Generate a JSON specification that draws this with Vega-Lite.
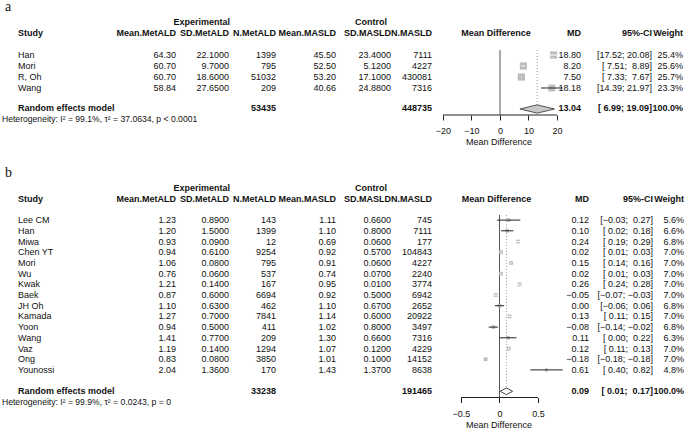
{
"$schema":"https://vega.github.io/schema/vega-lite/v6.json",
"padding":{"left":0,"top":0,"right":0,"bottom":2},
"background":"white",
"columns":11,
"spacing":{"row":45,"column":0},
"bounds":"flush",
"config":{"view":{"stroke":null},"text":{"font":"Liberation Sans","fontSize":9,"align":"right","color":"#111"},
"axis":{"grid":false,"domain":false,"tickSize":5,"labelPadding":6.5,"titlePadding":2,"tickColor":"#222","labelColor":"#111","titleColor":"#111","labelFont":"Liberation Sans","titleFont":"Liberation Sans","labelFontSize":9,"titleFontSize":9,"titleFontWeight":"normal","labelFlush":false,"labelOverlap":false,"tickWidth":1,"format":"~f"}},
"datasets":{
"a":[
{"row":"Han","study":"Han","me":64.30,"se":22.1,"ne":1399,"mc":45.50,"sc":23.4,"nc":7111,"md":18.80,"lo":17.52,"hi":20.08,"ci":"[17.52;\u00a020.08]","w":0.254},
{"row":"Mori","study":"Mori","me":60.70,"se":9.7,"ne":795,"mc":52.50,"sc":5.12,"nc":4227,"md":8.20,"lo":7.51,"hi":8.89,"ci":"[\u00a07.51;\u00a0\u00a08.89]","w":0.256},
{"row":"R, Oh","study":"R, Oh","me":60.70,"se":18.6,"ne":51032,"mc":53.20,"sc":17.1,"nc":430081,"md":7.50,"lo":7.33,"hi":7.67,"ci":"[\u00a07.33;\u00a0\u00a07.67]","w":0.257},
{"row":"Wang","study":"Wang","me":58.84,"se":27.65,"ne":209,"mc":40.66,"sc":24.88,"nc":7316,"md":18.18,"lo":14.39,"hi":21.97,"ci":"[14.39;\u00a021.97]","w":0.233},
{"row":"RE","study":"Random effects model","ne":53435,"nc":448735,"md":13.04,"lo":6.99,"hi":19.09,"ci":"[\u00a06.99;\u00a019.09]","w":1}
],
"b":[
{"row":"Lee CM","study":"Lee CM","me":1.23,"se":0.89,"ne":143,"mc":1.11,"sc":0.66,"nc":745,"md":0.12,"lo":-0.03,"hi":0.27,"ci":"[\u22120.03;\u00a0\u00a00.27]","w":0.056},
{"row":"Han","study":"Han","me":1.20,"se":1.5,"ne":1399,"mc":1.10,"sc":0.8,"nc":7111,"md":0.10,"lo":0.02,"hi":0.18,"ci":"[\u00a00.02;\u00a0\u00a00.18]","w":0.066},
{"row":"Miwa","study":"Miwa","me":0.93,"se":0.09,"ne":12,"mc":0.69,"sc":0.06,"nc":177,"md":0.24,"lo":0.19,"hi":0.29,"ci":"[\u00a00.19;\u00a0\u00a00.29]","w":0.068},
{"row":"Chen YT","study":"Chen YT","me":0.94,"se":0.61,"ne":9254,"mc":0.92,"sc":0.57,"nc":104843,"md":0.02,"lo":0.01,"hi":0.03,"ci":"[\u00a00.01;\u00a0\u00a00.03]","w":0.070},
{"row":"Mori","study":"Mori","me":1.06,"se":0.08,"ne":795,"mc":0.91,"sc":0.06,"nc":4227,"md":0.15,"lo":0.14,"hi":0.16,"ci":"[\u00a00.14;\u00a0\u00a00.16]","w":0.070},
{"row":"Wu","study":"Wu","me":0.76,"se":0.06,"ne":537,"mc":0.74,"sc":0.07,"nc":2240,"md":0.02,"lo":0.01,"hi":0.03,"ci":"[\u00a00.01;\u00a0\u00a00.03]","w":0.070},
{"row":"Kwak","study":"Kwak","me":1.21,"se":0.14,"ne":167,"mc":0.95,"sc":0.01,"nc":3774,"md":0.26,"lo":0.24,"hi":0.28,"ci":"[\u00a00.24;\u00a0\u00a00.28]","w":0.070},
{"row":"Baek","study":"Baek","me":0.87,"se":0.6,"ne":6694,"mc":0.92,"sc":0.5,"nc":6942,"md":-0.05,"lo":-0.07,"hi":-0.03,"ci":"[\u22120.07;\u00a0\u22120.03]","w":0.070},
{"row":"JH Oh","study":"JH Oh","me":1.10,"se":0.63,"ne":462,"mc":1.10,"sc":0.67,"nc":2652,"md":0.00,"lo":-0.06,"hi":0.06,"ci":"[\u22120.06;\u00a0\u00a00.06]","w":0.068},
{"row":"Kamada","study":"Kamada","me":1.27,"se":0.7,"ne":7841,"mc":1.14,"sc":0.6,"nc":20922,"md":0.13,"lo":0.11,"hi":0.15,"ci":"[\u00a00.11;\u00a0\u00a00.15]","w":0.070},
{"row":"Yoon","study":"Yoon","me":0.94,"se":0.5,"ne":411,"mc":1.02,"sc":0.8,"nc":3497,"md":-0.08,"lo":-0.14,"hi":-0.02,"ci":"[\u22120.14;\u00a0\u22120.02]","w":0.068},
{"row":"Wang","study":"Wang","me":1.41,"se":0.77,"ne":209,"mc":1.30,"sc":0.66,"nc":7316,"md":0.11,"lo":0.00,"hi":0.22,"ci":"[\u00a00.00;\u00a0\u00a00.22]","w":0.063},
{"row":"Vaz","study":"Vaz","me":1.19,"se":0.14,"ne":1294,"mc":1.07,"sc":0.12,"nc":4229,"md":0.12,"lo":0.11,"hi":0.13,"ci":"[\u00a00.11;\u00a0\u00a00.13]","w":0.070},
{"row":"Ong","study":"Ong","me":0.83,"se":0.08,"ne":3850,"mc":1.01,"sc":0.1,"nc":14152,"md":-0.18,"lo":-0.18,"hi":-0.18,"ci":"[\u22120.18;\u00a0\u22120.18]","w":0.070},
{"row":"Younossi","study":"Younossi","me":2.04,"se":1.36,"ne":170,"mc":1.43,"sc":1.37,"nc":8638,"md":0.61,"lo":0.40,"hi":0.82,"ci":"[\u00a00.40;\u00a0\u00a00.82]","w":0.048},
{"row":"RE","study":"Random effects model","ne":33238,"nc":191465,"md":0.09,"lo":0.01,"hi":0.17,"ci":"[\u00a00.01;\u00a0\u00a00.17]","w":1}
]
},
"concat":[
{"width":120,"height":115,"layer":[
{"data":{"values":[{}]},"mark":{"type":"text","text":"a","font":"Liberation Serif","fontSize":14,"align":"left","baseline":"alphabetic","dx":5,"dy":-10.5},"encoding":{"x":{"datum":"c","type":"nominal","scale":{"type":"point","padding":0,"align":0},"axis":null},"y":{"datum":"grp","type":"nominal","scale":{"type":"point","domain":["t0","t1","grp","hdr","gap1","Han","Mori","R, Oh","Wang","gap2","RE"],"padding":0.2273,"align":0},"axis":null}}},
{"data":{"values":[{}]},"mark":{"type":"text","text":"Study","fontWeight":"bold","align":"left","dx":18},"encoding":{"x":{"datum":"c","type":"nominal","scale":{"type":"point","padding":0,"align":0},"axis":null},"y":{"datum":"hdr","type":"nominal","scale":{"type":"point","domain":["t0","t1","grp","hdr","gap1","Han","Mori","R, Oh","Wang","gap2","RE"],"padding":0.2273,"align":0},"axis":null}}},
{"data":{"name":"a"},"transform":[{"filter":"datum.row !== 'RE'"}],"mark":{"type":"text","align":"left","dx":18},"encoding":{"x":{"datum":"c","type":"nominal","scale":{"type":"point","padding":0,"align":0},"axis":null},"y":{"field":"row","type":"nominal","scale":{"type":"point","domain":["t0","t1","grp","hdr","gap1","Han","Mori","R, Oh","Wang","gap2","RE"],"padding":0.2273,"align":0},"axis":null},"text":{"field":"study","type":"nominal"}}},
{"data":{"name":"a"},"transform":[{"filter":"datum.row === 'RE'"}],"mark":{"type":"text","align":"left","dx":18,"dy":-2,"fontWeight":"bold"},"encoding":{"x":{"datum":"c","type":"nominal","scale":{"type":"point","padding":0,"align":0},"axis":null},"y":{"field":"row","type":"nominal","scale":{"type":"point","domain":["t0","t1","grp","hdr","gap1","Han","Mori","R, Oh","Wang","gap2","RE"],"padding":0.2273,"align":0},"axis":null},"text":{"field":"study","type":"nominal"}}},
{"data":{"values":[{}]},"mark":{"type":"text","text":"Heterogeneity: I\u00b2 = 99.1%, \u03c4\u00b2 = 37.0634, p < 0.0001","align":"left","dx":2,"dy":9,"fontSize":8.6},"encoding":{"x":{"datum":"c","type":"nominal","scale":{"type":"point","padding":0,"align":0},"axis":null},"y":{"datum":"RE","type":"nominal","scale":{"type":"point","domain":["t0","t1","grp","hdr","gap1","Han","Mori","R, Oh","Wang","gap2","RE"],"padding":0.2273,"align":0},"axis":null}}}
]},
{"width":56,"height":115,"encoding":{"x":{"datum":"c","type":"nominal","scale":{"type":"point","padding":0,"align":1},"axis":null}},"layer":[
{"data":{"values":[{}]},"mark":{"type":"text","text":"Mean.MetALD","fontWeight":"bold"},"encoding":{"y":{"datum":"hdr","type":"nominal","scale":{"type":"point","domain":["t0","t1","grp","hdr","gap1","Han","Mori","R, Oh","Wang","gap2","RE"],"padding":0.2273,"align":0},"axis":null}}},
{"data":{"name":"a"},"transform":[{"filter":"datum.row !== 'RE'"}],"mark":"text","encoding":{"y":{"field":"row","type":"nominal","scale":{"type":"point","domain":["t0","t1","grp","hdr","gap1","Han","Mori","R, Oh","Wang","gap2","RE"],"padding":0.2273,"align":0},"axis":null},"text":{"field":"me","type":"quantitative","format":".2f"}}}
]},
{"width":53,"height":115,"encoding":{"x":{"datum":"c","type":"nominal","scale":{"type":"point","padding":0,"align":1},"axis":null}},"layer":[
{"data":{"values":[{}]},"mark":{"type":"text","text":"Experimental","fontWeight":"bold","dx":1},"encoding":{"y":{"datum":"grp","type":"nominal","scale":{"type":"point","domain":["t0","t1","grp","hdr","gap1","Han","Mori","R, Oh","Wang","gap2","RE"],"padding":0.2273,"align":0},"axis":null}}},
{"data":{"values":[{}]},"mark":{"type":"text","text":"SD.MetALD","fontWeight":"bold"},"encoding":{"y":{"datum":"hdr","type":"nominal","scale":{"type":"point","domain":["t0","t1","grp","hdr","gap1","Han","Mori","R, Oh","Wang","gap2","RE"],"padding":0.2273,"align":0},"axis":null}}},
{"data":{"name":"a"},"transform":[{"filter":"datum.row !== 'RE'"}],"mark":"text","encoding":{"y":{"field":"row","type":"nominal","scale":{"type":"point","domain":["t0","t1","grp","hdr","gap1","Han","Mori","R, Oh","Wang","gap2","RE"],"padding":0.2273,"align":0},"axis":null},"text":{"field":"se","type":"quantitative","format":".4f"}}}
]},
{"width":47,"height":115,"encoding":{"x":{"datum":"c","type":"nominal","scale":{"type":"point","padding":0,"align":1},"axis":null}},"layer":[
{"data":{"values":[{}]},"mark":{"type":"text","text":"N.MetALD","fontWeight":"bold"},"encoding":{"y":{"datum":"hdr","type":"nominal","scale":{"type":"point","domain":["t0","t1","grp","hdr","gap1","Han","Mori","R, Oh","Wang","gap2","RE"],"padding":0.2273,"align":0},"axis":null}}},
{"data":{"name":"a"},"transform":[{"filter":"datum.row !== 'RE'"}],"mark":"text","encoding":{"y":{"field":"row","type":"nominal","scale":{"type":"point","domain":["t0","t1","grp","hdr","gap1","Han","Mori","R, Oh","Wang","gap2","RE"],"padding":0.2273,"align":0},"axis":null},"text":{"field":"ne","type":"quantitative","format":"d"}}},
{"data":{"name":"a"},"transform":[{"filter":"datum.row === 'RE'"}],"mark":{"type":"text","fontWeight":"bold","dy":-2},"encoding":{"y":{"field":"row","type":"nominal","scale":{"type":"point","domain":["t0","t1","grp","hdr","gap1","Han","Mori","R, Oh","Wang","gap2","RE"],"padding":0.2273,"align":0},"axis":null},"text":{"field":"ne","type":"quantitative","format":"d"}}}
]},
{"width":60,"height":115,"encoding":{"x":{"datum":"c","type":"nominal","scale":{"type":"point","padding":0,"align":1},"axis":null}},"layer":[
{"data":{"values":[{}]},"mark":{"type":"text","text":"Mean.MASLD","fontWeight":"bold"},"encoding":{"y":{"datum":"hdr","type":"nominal","scale":{"type":"point","domain":["t0","t1","grp","hdr","gap1","Han","Mori","R, Oh","Wang","gap2","RE"],"padding":0.2273,"align":0},"axis":null}}},
{"data":{"name":"a"},"transform":[{"filter":"datum.row !== 'RE'"}],"mark":"text","encoding":{"y":{"field":"row","type":"nominal","scale":{"type":"point","domain":["t0","t1","grp","hdr","gap1","Han","Mori","R, Oh","Wang","gap2","RE"],"padding":0.2273,"align":0},"axis":null},"text":{"field":"mc","type":"quantitative","format":".2f"}}}
]},
{"width":55,"height":115,"encoding":{"x":{"datum":"c","type":"nominal","scale":{"type":"point","padding":0,"align":1},"axis":null}},"layer":[
{"data":{"values":[{}]},"mark":{"type":"text","text":"Control","fontWeight":"bold","dx":-4},"encoding":{"y":{"datum":"grp","type":"nominal","scale":{"type":"point","domain":["t0","t1","grp","hdr","gap1","Han","Mori","R, Oh","Wang","gap2","RE"],"padding":0.2273,"align":0},"axis":null}}},
{"data":{"values":[{}]},"mark":{"type":"text","text":"SD.MASLD","fontWeight":"bold"},"encoding":{"y":{"datum":"hdr","type":"nominal","scale":{"type":"point","domain":["t0","t1","grp","hdr","gap1","Han","Mori","R, Oh","Wang","gap2","RE"],"padding":0.2273,"align":0},"axis":null}}},
{"data":{"name":"a"},"transform":[{"filter":"datum.row !== 'RE'"}],"mark":"text","encoding":{"y":{"field":"row","type":"nominal","scale":{"type":"point","domain":["t0","t1","grp","hdr","gap1","Han","Mori","R, Oh","Wang","gap2","RE"],"padding":0.2273,"align":0},"axis":null},"text":{"field":"sc","type":"quantitative","format":".4f"}}}
]},
{"width":41,"height":115,"encoding":{"x":{"datum":"c","type":"nominal","scale":{"type":"point","padding":0,"align":1},"axis":null}},"layer":[
{"data":{"values":[{}]},"mark":{"type":"text","text":"N.MASLD","fontWeight":"bold"},"encoding":{"y":{"datum":"hdr","type":"nominal","scale":{"type":"point","domain":["t0","t1","grp","hdr","gap1","Han","Mori","R, Oh","Wang","gap2","RE"],"padding":0.2273,"align":0},"axis":null}}},
{"data":{"name":"a"},"transform":[{"filter":"datum.row !== 'RE'"}],"mark":"text","encoding":{"y":{"field":"row","type":"nominal","scale":{"type":"point","domain":["t0","t1","grp","hdr","gap1","Han","Mori","R, Oh","Wang","gap2","RE"],"padding":0.2273,"align":0},"axis":null},"text":{"field":"nc","type":"quantitative","format":"d"}}},
{"data":{"name":"a"},"transform":[{"filter":"datum.row === 'RE'"}],"mark":{"type":"text","fontWeight":"bold","dy":-2},"encoding":{"y":{"field":"row","type":"nominal","scale":{"type":"point","domain":["t0","t1","grp","hdr","gap1","Han","Mori","R, Oh","Wang","gap2","RE"],"padding":0.2273,"align":0},"axis":null},"text":{"field":"nc","type":"quantitative","format":"d"}}}
]},
{"width":133,"height":115,"layer":[
{"data":{"values":[{}]},"mark":{"type":"text","text":"Mean Difference","fontWeight":"bold","align":"center","dx":-4},"encoding":{"x":{"datum":0,"type":"quantitative","scale":{"domain":[-23.8596,22.807],"nice":false,"zero":false},"axis":{"values":[-20,-10,0,10,20],"title":"Mean Difference"}},"y":{"datum":"hdr","type":"nominal","scale":{"type":"point","domain":["t0","t1","grp","hdr","gap1","Han","Mori","R, Oh","Wang","gap2","RE"],"padding":0.2273,"align":0},"axis":null}}},
{"data":{"values":[{}]},"mark":{"type":"rule","color":"#222","strokeWidth":1,"yOffset":5},"encoding":{"x":{"datum":-20,"type":"quantitative","scale":{"domain":[-23.8596,22.807],"nice":false,"zero":false},"axis":{"values":[-20,-10,0,10,20],"title":"Mean Difference"}},"x2":{"datum":20},"y":{"datum":"RE","type":"nominal","scale":{"type":"point","domain":["t0","t1","grp","hdr","gap1","Han","Mori","R, Oh","Wang","gap2","RE"],"padding":0.2273,"align":0},"axis":null}}},
{"data":{"values":[{}]},"mark":{"type":"rule","color":"#555","strokeWidth":1,"yOffset":6,"y2Offset":5},"encoding":{"x":{"datum":0,"type":"quantitative","scale":{"domain":[-23.8596,22.807],"nice":false,"zero":false},"axis":{"values":[-20,-10,0,10,20],"title":"Mean Difference"}},"y":{"datum":"gap1","type":"nominal","scale":{"type":"point","domain":["t0","t1","grp","hdr","gap1","Han","Mori","R, Oh","Wang","gap2","RE"],"padding":0.2273,"align":0},"axis":null},"y2":{"datum":"RE"}}},
{"data":{"name":"a"},"transform":[{"filter":"datum.row === 'RE'"}],"mark":{"type":"rule","color":"#999","strokeWidth":1,"strokeDash":[1,2],"yOffset":6,"y2Offset":-1},"encoding":{"x":{"field":"md","type":"quantitative","scale":{"domain":[-23.8596,22.807],"nice":false,"zero":false},"axis":{"values":[-20,-10,0,10,20],"title":"Mean Difference"}},"y":{"datum":"gap1","type":"nominal","scale":{"type":"point","domain":["t0","t1","grp","hdr","gap1","Han","Mori","R, Oh","Wang","gap2","RE"],"padding":0.2273,"align":0},"axis":null},"y2":{"datum":"RE"}}},
{"data":{"name":"a"},"transform":[{"filter":"datum.row !== 'RE'"}],"mark":{"type":"point","shape":"square","filled":true,"color":"#bdbdbd","opacity":1,"strokeWidth":0},"encoding":{"x":{"field":"md","type":"quantitative","scale":{"domain":[-23.8596,22.807],"nice":false,"zero":false},"axis":{"values":[-20,-10,0,10,20],"title":"Mean Difference"}},"y":{"field":"row","type":"nominal","scale":{"type":"point","domain":["t0","t1","grp","hdr","gap1","Han","Mori","R, Oh","Wang","gap2","RE"],"padding":0.2273,"align":0},"axis":null},"size":{"field":"w","type":"quantitative","scale":{"domain":[0,0.257],"range":[0,52]},"legend":null}}},
{"data":{"name":"a"},"transform":[{"filter":"datum.row !== 'RE'"}],"mark":{"type":"rule","strokeWidth":1},"encoding":{"x":{"field":"lo","type":"quantitative","scale":{"domain":[-23.8596,22.807],"nice":false,"zero":false},"axis":{"values":[-20,-10,0,10,20],"title":"Mean Difference"}},"x2":{"field":"hi"},"y":{"field":"row","type":"nominal","scale":{"type":"point","domain":["t0","t1","grp","hdr","gap1","Han","Mori","R, Oh","Wang","gap2","RE"],"padding":0.2273,"align":0},"axis":null},"color":{"condition":{"test":"datum.hi - datum.lo > 3","value":"#222"},"value":"#ffffff"}}},
{"data":{"name":"a"},"transform":[{"filter":"datum.row === 'RE'"}],"mark":{"type":"point","shape":"M-1,0L0,-0.24L1,0L0,0.24Z","size":1190,"filled":true,"fill":"#c8c8c8","stroke":"#555","strokeWidth":1,"opacity":1,"yOffset":-1},"encoding":{"x":{"field":"md","type":"quantitative","scale":{"domain":[-23.8596,22.807],"nice":false,"zero":false},"axis":{"values":[-20,-10,0,10,20],"title":"Mean Difference"}},"y":{"field":"row","type":"nominal","scale":{"type":"point","domain":["t0","t1","grp","hdr","gap1","Han","Mori","R, Oh","Wang","gap2","RE"],"padding":0.2273,"align":0},"axis":null}}}
]},
{"width":24,"height":115,"encoding":{"x":{"datum":"c","type":"nominal","scale":{"type":"point","padding":0,"align":1},"axis":null}},"layer":[
{"data":{"values":[{}]},"mark":{"type":"text","text":"MD","fontWeight":"bold","dx":-8},"encoding":{"y":{"datum":"hdr","type":"nominal","scale":{"type":"point","domain":["t0","t1","grp","hdr","gap1","Han","Mori","R, Oh","Wang","gap2","RE"],"padding":0.2273,"align":0},"axis":null}}},
{"data":{"name":"a"},"transform":[{"filter":"datum.row !== 'RE'"}],"mark":{"type":"text","dx":-8},"encoding":{"y":{"field":"row","type":"nominal","scale":{"type":"point","domain":["t0","t1","grp","hdr","gap1","Han","Mori","R, Oh","Wang","gap2","RE"],"padding":0.2273,"align":0},"axis":null},"text":{"field":"md","type":"quantitative","format":".2f"}}},
{"data":{"name":"a"},"transform":[{"filter":"datum.row === 'RE'"}],"mark":{"type":"text","fontWeight":"bold","dx":-8,"dy":-2},"encoding":{"y":{"field":"row","type":"nominal","scale":{"type":"point","domain":["t0","t1","grp","hdr","gap1","Han","Mori","R, Oh","Wang","gap2","RE"],"padding":0.2273,"align":0},"axis":null},"text":{"field":"md","type":"quantitative","format":".2f"}}}
]},
{"width":68,"height":115,"encoding":{"x":{"datum":"c","type":"nominal","scale":{"type":"point","padding":0,"align":1},"axis":null}},"layer":[
{"data":{"values":[{}]},"mark":{"type":"text","text":"95%-CI","fontWeight":"bold","dx":-5},"encoding":{"y":{"datum":"hdr","type":"nominal","scale":{"type":"point","domain":["t0","t1","grp","hdr","gap1","Han","Mori","R, Oh","Wang","gap2","RE"],"padding":0.2273,"align":0},"axis":null}}},
{"data":{"name":"a"},"transform":[{"filter":"datum.row !== 'RE'"}],"mark":{"type":"text","dx":-5},"encoding":{"y":{"field":"row","type":"nominal","scale":{"type":"point","domain":["t0","t1","grp","hdr","gap1","Han","Mori","R, Oh","Wang","gap2","RE"],"padding":0.2273,"align":0},"axis":null},"text":{"field":"ci","type":"nominal"}}},
{"data":{"name":"a"},"transform":[{"filter":"datum.row === 'RE'"}],"mark":{"type":"text","fontWeight":"bold","dx":-5,"dy":-2},"encoding":{"y":{"field":"row","type":"nominal","scale":{"type":"point","domain":["t0","t1","grp","hdr","gap1","Han","Mori","R, Oh","Wang","gap2","RE"],"padding":0.2273,"align":0},"axis":null},"text":{"field":"ci","type":"nominal"}}}
]},
{"width":27,"height":115,"encoding":{"x":{"datum":"c","type":"nominal","scale":{"type":"point","padding":0,"align":1},"axis":null}},"layer":[
{"data":{"values":[{}]},"mark":{"type":"text","text":"Weight","fontWeight":"bold","dx":-1},"encoding":{"y":{"datum":"hdr","type":"nominal","scale":{"type":"point","domain":["t0","t1","grp","hdr","gap1","Han","Mori","R, Oh","Wang","gap2","RE"],"padding":0.2273,"align":0},"axis":null}}},
{"data":{"name":"a"},"transform":[{"filter":"datum.row !== 'RE'"}],"mark":{"type":"text","dx":-1},"encoding":{"y":{"field":"row","type":"nominal","scale":{"type":"point","domain":["t0","t1","grp","hdr","gap1","Han","Mori","R, Oh","Wang","gap2","RE"],"padding":0.2273,"align":0},"axis":null},"text":{"field":"w","type":"quantitative","format":".1%"}}},
{"data":{"name":"a"},"transform":[{"filter":"datum.row === 'RE'"}],"mark":{"type":"text","fontWeight":"bold","dx":-1,"dy":-2},"encoding":{"y":{"field":"row","type":"nominal","scale":{"type":"point","domain":["t0","t1","grp","hdr","gap1","Han","Mori","R, Oh","Wang","gap2","RE"],"padding":0.2273,"align":0},"axis":null},"text":{"field":"w","type":"quantitative","format":".1%"}}}
]},
{"width":120,"height":237.5,"layer":[
{"data":{"values":[{}]},"mark":{"type":"text","text":"b","font":"Liberation Serif","fontSize":14,"align":"left","baseline":"alphabetic","dx":5,"dy":-11.3},"encoding":{"x":{"datum":"c","type":"nominal","scale":{"type":"point","padding":0,"align":0},"axis":null},"y":{"datum":"grp","type":"nominal","scale":{"type":"point","domain":["t0","t1","grp","hdr","gap1","Lee CM","Han","Miwa","Chen YT","Mori","Wu","Kwak","Baek","JH Oh","Kamada","Yoon","Wang","Vaz","Ong","Younossi","gap2","RE"],"padding":0.598,"align":0.516},"axis":null}}},
{"data":{"values":[{}]},"mark":{"type":"text","text":"Study","fontWeight":"bold","align":"left","dx":18},"encoding":{"x":{"datum":"c","type":"nominal","scale":{"type":"point","padding":0,"align":0},"axis":null},"y":{"datum":"hdr","type":"nominal","scale":{"type":"point","domain":["t0","t1","grp","hdr","gap1","Lee CM","Han","Miwa","Chen YT","Mori","Wu","Kwak","Baek","JH Oh","Kamada","Yoon","Wang","Vaz","Ong","Younossi","gap2","RE"],"padding":0.598,"align":0.516},"axis":null}}},
{"data":{"name":"b"},"transform":[{"filter":"datum.row !== 'RE'"}],"mark":{"type":"text","align":"left","dx":18},"encoding":{"x":{"datum":"c","type":"nominal","scale":{"type":"point","padding":0,"align":0},"axis":null},"y":{"field":"row","type":"nominal","scale":{"type":"point","domain":["t0","t1","grp","hdr","gap1","Lee CM","Han","Miwa","Chen YT","Mori","Wu","Kwak","Baek","JH Oh","Kamada","Yoon","Wang","Vaz","Ong","Younossi","gap2","RE"],"padding":0.598,"align":0.516},"axis":null},"text":{"field":"study","type":"nominal"}}},
{"data":{"name":"b"},"transform":[{"filter":"datum.row === 'RE'"}],"mark":{"type":"text","align":"left","dx":18,"fontWeight":"bold"},"encoding":{"x":{"datum":"c","type":"nominal","scale":{"type":"point","padding":0,"align":0},"axis":null},"y":{"field":"row","type":"nominal","scale":{"type":"point","domain":["t0","t1","grp","hdr","gap1","Lee CM","Han","Miwa","Chen YT","Mori","Wu","Kwak","Baek","JH Oh","Kamada","Yoon","Wang","Vaz","Ong","Younossi","gap2","RE"],"padding":0.598,"align":0.516},"axis":null},"text":{"field":"study","type":"nominal"}}},
{"data":{"values":[{}]},"mark":{"type":"text","text":"Heterogeneity: I\u00b2 = 99.9%, \u03c4\u00b2 = 0.0243, p = 0","align":"left","dx":2,"dy":11,"fontSize":8.6},"encoding":{"x":{"datum":"c","type":"nominal","scale":{"type":"point","padding":0,"align":0},"axis":null},"y":{"datum":"RE","type":"nominal","scale":{"type":"point","domain":["t0","t1","grp","hdr","gap1","Lee CM","Han","Miwa","Chen YT","Mori","Wu","Kwak","Baek","JH Oh","Kamada","Yoon","Wang","Vaz","Ong","Younossi","gap2","RE"],"padding":0.598,"align":0.516},"axis":null}}}
]},
{"width":56,"height":237.5,"encoding":{"x":{"datum":"c","type":"nominal","scale":{"type":"point","padding":0,"align":1},"axis":null}},"layer":[
{"data":{"values":[{}]},"mark":{"type":"text","text":"Mean.MetALD","fontWeight":"bold"},"encoding":{"y":{"datum":"hdr","type":"nominal","scale":{"type":"point","domain":["t0","t1","grp","hdr","gap1","Lee CM","Han","Miwa","Chen YT","Mori","Wu","Kwak","Baek","JH Oh","Kamada","Yoon","Wang","Vaz","Ong","Younossi","gap2","RE"],"padding":0.598,"align":0.516},"axis":null}}},
{"data":{"name":"b"},"transform":[{"filter":"datum.row !== 'RE'"}],"mark":"text","encoding":{"y":{"field":"row","type":"nominal","scale":{"type":"point","domain":["t0","t1","grp","hdr","gap1","Lee CM","Han","Miwa","Chen YT","Mori","Wu","Kwak","Baek","JH Oh","Kamada","Yoon","Wang","Vaz","Ong","Younossi","gap2","RE"],"padding":0.598,"align":0.516},"axis":null},"text":{"field":"me","type":"quantitative","format":".2f"}}}
]},
{"width":53,"height":237.5,"encoding":{"x":{"datum":"c","type":"nominal","scale":{"type":"point","padding":0,"align":1},"axis":null}},"layer":[
{"data":{"values":[{}]},"mark":{"type":"text","text":"Experimental","fontWeight":"bold","dx":1},"encoding":{"y":{"datum":"grp","type":"nominal","scale":{"type":"point","domain":["t0","t1","grp","hdr","gap1","Lee CM","Han","Miwa","Chen YT","Mori","Wu","Kwak","Baek","JH Oh","Kamada","Yoon","Wang","Vaz","Ong","Younossi","gap2","RE"],"padding":0.598,"align":0.516},"axis":null}}},
{"data":{"values":[{}]},"mark":{"type":"text","text":"SD.MetALD","fontWeight":"bold"},"encoding":{"y":{"datum":"hdr","type":"nominal","scale":{"type":"point","domain":["t0","t1","grp","hdr","gap1","Lee CM","Han","Miwa","Chen YT","Mori","Wu","Kwak","Baek","JH Oh","Kamada","Yoon","Wang","Vaz","Ong","Younossi","gap2","RE"],"padding":0.598,"align":0.516},"axis":null}}},
{"data":{"name":"b"},"transform":[{"filter":"datum.row !== 'RE'"}],"mark":"text","encoding":{"y":{"field":"row","type":"nominal","scale":{"type":"point","domain":["t0","t1","grp","hdr","gap1","Lee CM","Han","Miwa","Chen YT","Mori","Wu","Kwak","Baek","JH Oh","Kamada","Yoon","Wang","Vaz","Ong","Younossi","gap2","RE"],"padding":0.598,"align":0.516},"axis":null},"text":{"field":"se","type":"quantitative","format":".4f"}}}
]},
{"width":47,"height":237.5,"encoding":{"x":{"datum":"c","type":"nominal","scale":{"type":"point","padding":0,"align":1},"axis":null}},"layer":[
{"data":{"values":[{}]},"mark":{"type":"text","text":"N.MetALD","fontWeight":"bold"},"encoding":{"y":{"datum":"hdr","type":"nominal","scale":{"type":"point","domain":["t0","t1","grp","hdr","gap1","Lee CM","Han","Miwa","Chen YT","Mori","Wu","Kwak","Baek","JH Oh","Kamada","Yoon","Wang","Vaz","Ong","Younossi","gap2","RE"],"padding":0.598,"align":0.516},"axis":null}}},
{"data":{"name":"b"},"transform":[{"filter":"datum.row !== 'RE'"}],"mark":"text","encoding":{"y":{"field":"row","type":"nominal","scale":{"type":"point","domain":["t0","t1","grp","hdr","gap1","Lee CM","Han","Miwa","Chen YT","Mori","Wu","Kwak","Baek","JH Oh","Kamada","Yoon","Wang","Vaz","Ong","Younossi","gap2","RE"],"padding":0.598,"align":0.516},"axis":null},"text":{"field":"ne","type":"quantitative","format":"d"}}},
{"data":{"name":"b"},"transform":[{"filter":"datum.row === 'RE'"}],"mark":{"type":"text","fontWeight":"bold"},"encoding":{"y":{"field":"row","type":"nominal","scale":{"type":"point","domain":["t0","t1","grp","hdr","gap1","Lee CM","Han","Miwa","Chen YT","Mori","Wu","Kwak","Baek","JH Oh","Kamada","Yoon","Wang","Vaz","Ong","Younossi","gap2","RE"],"padding":0.598,"align":0.516},"axis":null},"text":{"field":"ne","type":"quantitative","format":"d"}}}
]},
{"width":60,"height":237.5,"encoding":{"x":{"datum":"c","type":"nominal","scale":{"type":"point","padding":0,"align":1},"axis":null}},"layer":[
{"data":{"values":[{}]},"mark":{"type":"text","text":"Mean.MASLD","fontWeight":"bold"},"encoding":{"y":{"datum":"hdr","type":"nominal","scale":{"type":"point","domain":["t0","t1","grp","hdr","gap1","Lee CM","Han","Miwa","Chen YT","Mori","Wu","Kwak","Baek","JH Oh","Kamada","Yoon","Wang","Vaz","Ong","Younossi","gap2","RE"],"padding":0.598,"align":0.516},"axis":null}}},
{"data":{"name":"b"},"transform":[{"filter":"datum.row !== 'RE'"}],"mark":"text","encoding":{"y":{"field":"row","type":"nominal","scale":{"type":"point","domain":["t0","t1","grp","hdr","gap1","Lee CM","Han","Miwa","Chen YT","Mori","Wu","Kwak","Baek","JH Oh","Kamada","Yoon","Wang","Vaz","Ong","Younossi","gap2","RE"],"padding":0.598,"align":0.516},"axis":null},"text":{"field":"mc","type":"quantitative","format":".2f"}}}
]},
{"width":55,"height":237.5,"encoding":{"x":{"datum":"c","type":"nominal","scale":{"type":"point","padding":0,"align":1},"axis":null}},"layer":[
{"data":{"values":[{}]},"mark":{"type":"text","text":"Control","fontWeight":"bold","dx":-4},"encoding":{"y":{"datum":"grp","type":"nominal","scale":{"type":"point","domain":["t0","t1","grp","hdr","gap1","Lee CM","Han","Miwa","Chen YT","Mori","Wu","Kwak","Baek","JH Oh","Kamada","Yoon","Wang","Vaz","Ong","Younossi","gap2","RE"],"padding":0.598,"align":0.516},"axis":null}}},
{"data":{"values":[{}]},"mark":{"type":"text","text":"SD.MASLD","fontWeight":"bold"},"encoding":{"y":{"datum":"hdr","type":"nominal","scale":{"type":"point","domain":["t0","t1","grp","hdr","gap1","Lee CM","Han","Miwa","Chen YT","Mori","Wu","Kwak","Baek","JH Oh","Kamada","Yoon","Wang","Vaz","Ong","Younossi","gap2","RE"],"padding":0.598,"align":0.516},"axis":null}}},
{"data":{"name":"b"},"transform":[{"filter":"datum.row !== 'RE'"}],"mark":"text","encoding":{"y":{"field":"row","type":"nominal","scale":{"type":"point","domain":["t0","t1","grp","hdr","gap1","Lee CM","Han","Miwa","Chen YT","Mori","Wu","Kwak","Baek","JH Oh","Kamada","Yoon","Wang","Vaz","Ong","Younossi","gap2","RE"],"padding":0.598,"align":0.516},"axis":null},"text":{"field":"sc","type":"quantitative","format":".4f"}}}
]},
{"width":41,"height":237.5,"encoding":{"x":{"datum":"c","type":"nominal","scale":{"type":"point","padding":0,"align":1},"axis":null}},"layer":[
{"data":{"values":[{}]},"mark":{"type":"text","text":"N.MASLD","fontWeight":"bold"},"encoding":{"y":{"datum":"hdr","type":"nominal","scale":{"type":"point","domain":["t0","t1","grp","hdr","gap1","Lee CM","Han","Miwa","Chen YT","Mori","Wu","Kwak","Baek","JH Oh","Kamada","Yoon","Wang","Vaz","Ong","Younossi","gap2","RE"],"padding":0.598,"align":0.516},"axis":null}}},
{"data":{"name":"b"},"transform":[{"filter":"datum.row !== 'RE'"}],"mark":"text","encoding":{"y":{"field":"row","type":"nominal","scale":{"type":"point","domain":["t0","t1","grp","hdr","gap1","Lee CM","Han","Miwa","Chen YT","Mori","Wu","Kwak","Baek","JH Oh","Kamada","Yoon","Wang","Vaz","Ong","Younossi","gap2","RE"],"padding":0.598,"align":0.516},"axis":null},"text":{"field":"nc","type":"quantitative","format":"d"}}},
{"data":{"name":"b"},"transform":[{"filter":"datum.row === 'RE'"}],"mark":{"type":"text","fontWeight":"bold"},"encoding":{"y":{"field":"row","type":"nominal","scale":{"type":"point","domain":["t0","t1","grp","hdr","gap1","Lee CM","Han","Miwa","Chen YT","Mori","Wu","Kwak","Baek","JH Oh","Kamada","Yoon","Wang","Vaz","Ong","Younossi","gap2","RE"],"padding":0.598,"align":0.516},"axis":null},"text":{"field":"nc","type":"quantitative","format":"d"}}}
]},
{"width":133,"height":237.5,"layer":[
{"data":{"values":[{}]},"mark":{"type":"text","text":"Mean Difference","fontWeight":"bold","align":"center","dx":-3},"encoding":{"x":{"datum":0,"type":"quantitative","scale":{"domain":[-0.87662,0.85065],"nice":false,"zero":false},"axis":{"values":[-0.5,0,0.5],"title":"Mean Difference"}},"y":{"datum":"hdr","type":"nominal","scale":{"type":"point","domain":["t0","t1","grp","hdr","gap1","Lee CM","Han","Miwa","Chen YT","Mori","Wu","Kwak","Baek","JH Oh","Kamada","Yoon","Wang","Vaz","Ong","Younossi","gap2","RE"],"padding":0.598,"align":0.516},"axis":null}}},
{"data":{"values":[{}]},"mark":{"type":"rule","color":"#222","strokeWidth":1,"yOffset":6.2},"encoding":{"x":{"datum":-0.5,"type":"quantitative","scale":{"domain":[-0.87662,0.85065],"nice":false,"zero":false},"axis":{"values":[-0.5,0,0.5],"title":"Mean Difference"}},"x2":{"datum":0.5},"y":{"datum":"RE","type":"nominal","scale":{"type":"point","domain":["t0","t1","grp","hdr","gap1","Lee CM","Han","Miwa","Chen YT","Mori","Wu","Kwak","Baek","JH Oh","Kamada","Yoon","Wang","Vaz","Ong","Younossi","gap2","RE"],"padding":0.598,"align":0.516},"axis":null}}},
{"data":{"values":[{}]},"mark":{"type":"rule","color":"#555","strokeWidth":1,"yOffset":5.5,"y2Offset":6.2},"encoding":{"x":{"datum":0,"type":"quantitative","scale":{"domain":[-0.87662,0.85065],"nice":false,"zero":false},"axis":{"values":[-0.5,0,0.5],"title":"Mean Difference"}},"y":{"datum":"gap1","type":"nominal","scale":{"type":"point","domain":["t0","t1","grp","hdr","gap1","Lee CM","Han","Miwa","Chen YT","Mori","Wu","Kwak","Baek","JH Oh","Kamada","Yoon","Wang","Vaz","Ong","Younossi","gap2","RE"],"padding":0.598,"align":0.516},"axis":null},"y2":{"datum":"RE"}}},
{"data":{"name":"b"},"transform":[{"filter":"datum.row === 'RE'"}],"mark":{"type":"rule","color":"#999","strokeWidth":1,"strokeDash":[1,2],"yOffset":5.5},"encoding":{"x":{"field":"md","type":"quantitative","scale":{"domain":[-0.87662,0.85065],"nice":false,"zero":false},"axis":{"values":[-0.5,0,0.5],"title":"Mean Difference"}},"y":{"datum":"gap1","type":"nominal","scale":{"type":"point","domain":["t0","t1","grp","hdr","gap1","Lee CM","Han","Miwa","Chen YT","Mori","Wu","Kwak","Baek","JH Oh","Kamada","Yoon","Wang","Vaz","Ong","Younossi","gap2","RE"],"padding":0.598,"align":0.516},"axis":null},"y2":{"datum":"RE"}}},
{"data":{"name":"b"},"transform":[{"filter":"datum.row !== 'RE'"}],"mark":{"type":"point","shape":"square","filled":true,"color":"#bdbdbd","opacity":1,"strokeWidth":0},"encoding":{"x":{"field":"md","type":"quantitative","scale":{"domain":[-0.87662,0.85065],"nice":false,"zero":false},"axis":{"values":[-0.5,0,0.5],"title":"Mean Difference"}},"y":{"field":"row","type":"nominal","scale":{"type":"point","domain":["t0","t1","grp","hdr","gap1","Lee CM","Han","Miwa","Chen YT","Mori","Wu","Kwak","Baek","JH Oh","Kamada","Yoon","Wang","Vaz","Ong","Younossi","gap2","RE"],"padding":0.598,"align":0.516},"axis":null},"size":{"field":"w","type":"quantitative","scale":{"domain":[0,0.07],"range":[0,52]},"legend":null}}},
{"data":{"name":"b"},"transform":[{"filter":"datum.row !== 'RE'"}],"mark":{"type":"rule","strokeWidth":1},"encoding":{"x":{"field":"lo","type":"quantitative","scale":{"domain":[-0.87662,0.85065],"nice":false,"zero":false},"axis":{"values":[-0.5,0,0.5],"title":"Mean Difference"}},"x2":{"field":"hi"},"y":{"field":"row","type":"nominal","scale":{"type":"point","domain":["t0","t1","grp","hdr","gap1","Lee CM","Han","Miwa","Chen YT","Mori","Wu","Kwak","Baek","JH Oh","Kamada","Yoon","Wang","Vaz","Ong","Younossi","gap2","RE"],"padding":0.598,"align":0.516},"axis":null},"color":{"condition":{"test":"datum.hi - datum.lo > 0.11","value":"#222"},"value":"#ffffff"}}},
{"data":{"name":"b"},"transform":[{"filter":"datum.row === 'RE'"}],"mark":{"type":"point","shape":"M-1,0L0,-0.55L1,0L0,0.55Z","size":152,"filled":true,"fill":"#ffffff","stroke":"#444","strokeWidth":1,"opacity":1},"encoding":{"x":{"field":"md","type":"quantitative","scale":{"domain":[-0.87662,0.85065],"nice":false,"zero":false},"axis":{"values":[-0.5,0,0.5],"title":"Mean Difference"}},"y":{"field":"row","type":"nominal","scale":{"type":"point","domain":["t0","t1","grp","hdr","gap1","Lee CM","Han","Miwa","Chen YT","Mori","Wu","Kwak","Baek","JH Oh","Kamada","Yoon","Wang","Vaz","Ong","Younossi","gap2","RE"],"padding":0.598,"align":0.516},"axis":null}}}
]},
{"width":24,"height":237.5,"encoding":{"x":{"datum":"c","type":"nominal","scale":{"type":"point","padding":0,"align":1},"axis":null}},"layer":[
{"data":{"values":[{}]},"mark":{"type":"text","text":"MD","fontWeight":"bold"},"encoding":{"y":{"datum":"hdr","type":"nominal","scale":{"type":"point","domain":["t0","t1","grp","hdr","gap1","Lee CM","Han","Miwa","Chen YT","Mori","Wu","Kwak","Baek","JH Oh","Kamada","Yoon","Wang","Vaz","Ong","Younossi","gap2","RE"],"padding":0.598,"align":0.516},"axis":null}}},
{"data":{"name":"b"},"transform":[{"filter":"datum.row !== 'RE'"}],"mark":"text","encoding":{"y":{"field":"row","type":"nominal","scale":{"type":"point","domain":["t0","t1","grp","hdr","gap1","Lee CM","Han","Miwa","Chen YT","Mori","Wu","Kwak","Baek","JH Oh","Kamada","Yoon","Wang","Vaz","Ong","Younossi","gap2","RE"],"padding":0.598,"align":0.516},"axis":null},"text":{"field":"md","type":"quantitative","format":".2f"}}},
{"data":{"name":"b"},"transform":[{"filter":"datum.row === 'RE'"}],"mark":{"type":"text","fontWeight":"bold"},"encoding":{"y":{"field":"row","type":"nominal","scale":{"type":"point","domain":["t0","t1","grp","hdr","gap1","Lee CM","Han","Miwa","Chen YT","Mori","Wu","Kwak","Baek","JH Oh","Kamada","Yoon","Wang","Vaz","Ong","Younossi","gap2","RE"],"padding":0.598,"align":0.516},"axis":null},"text":{"field":"md","type":"quantitative","format":".2f"}}}
]},
{"width":68,"height":237.5,"encoding":{"x":{"datum":"c","type":"nominal","scale":{"type":"point","padding":0,"align":1},"axis":null}},"layer":[
{"data":{"values":[{}]},"mark":{"type":"text","text":"95%-CI","fontWeight":"bold","dx":-4},"encoding":{"y":{"datum":"hdr","type":"nominal","scale":{"type":"point","domain":["t0","t1","grp","hdr","gap1","Lee CM","Han","Miwa","Chen YT","Mori","Wu","Kwak","Baek","JH Oh","Kamada","Yoon","Wang","Vaz","Ong","Younossi","gap2","RE"],"padding":0.598,"align":0.516},"axis":null}}},
{"data":{"name":"b"},"transform":[{"filter":"datum.row !== 'RE'"}],"mark":{"type":"text","dx":-4},"encoding":{"y":{"field":"row","type":"nominal","scale":{"type":"point","domain":["t0","t1","grp","hdr","gap1","Lee CM","Han","Miwa","Chen YT","Mori","Wu","Kwak","Baek","JH Oh","Kamada","Yoon","Wang","Vaz","Ong","Younossi","gap2","RE"],"padding":0.598,"align":0.516},"axis":null},"text":{"field":"ci","type":"nominal"}}},
{"data":{"name":"b"},"transform":[{"filter":"datum.row === 'RE'"}],"mark":{"type":"text","fontWeight":"bold","dx":-4},"encoding":{"y":{"field":"row","type":"nominal","scale":{"type":"point","domain":["t0","t1","grp","hdr","gap1","Lee CM","Han","Miwa","Chen YT","Mori","Wu","Kwak","Baek","JH Oh","Kamada","Yoon","Wang","Vaz","Ong","Younossi","gap2","RE"],"padding":0.598,"align":0.516},"axis":null},"text":{"field":"ci","type":"nominal"}}}
]},
{"width":27,"height":237.5,"encoding":{"x":{"datum":"c","type":"nominal","scale":{"type":"point","padding":0,"align":1},"axis":null}},"layer":[
{"data":{"values":[{}]},"mark":{"type":"text","text":"Weight","fontWeight":"bold"},"encoding":{"y":{"datum":"hdr","type":"nominal","scale":{"type":"point","domain":["t0","t1","grp","hdr","gap1","Lee CM","Han","Miwa","Chen YT","Mori","Wu","Kwak","Baek","JH Oh","Kamada","Yoon","Wang","Vaz","Ong","Younossi","gap2","RE"],"padding":0.598,"align":0.516},"axis":null}}},
{"data":{"name":"b"},"transform":[{"filter":"datum.row !== 'RE'"}],"mark":"text","encoding":{"y":{"field":"row","type":"nominal","scale":{"type":"point","domain":["t0","t1","grp","hdr","gap1","Lee CM","Han","Miwa","Chen YT","Mori","Wu","Kwak","Baek","JH Oh","Kamada","Yoon","Wang","Vaz","Ong","Younossi","gap2","RE"],"padding":0.598,"align":0.516},"axis":null},"text":{"field":"w","type":"quantitative","format":".1%"}}},
{"data":{"name":"b"},"transform":[{"filter":"datum.row === 'RE'"}],"mark":{"type":"text","fontWeight":"bold"},"encoding":{"y":{"field":"row","type":"nominal","scale":{"type":"point","domain":["t0","t1","grp","hdr","gap1","Lee CM","Han","Miwa","Chen YT","Mori","Wu","Kwak","Baek","JH Oh","Kamada","Yoon","Wang","Vaz","Ong","Younossi","gap2","RE"],"padding":0.598,"align":0.516},"axis":null},"text":{"field":"w","type":"quantitative","format":".1%"}}}
]}
]
}
